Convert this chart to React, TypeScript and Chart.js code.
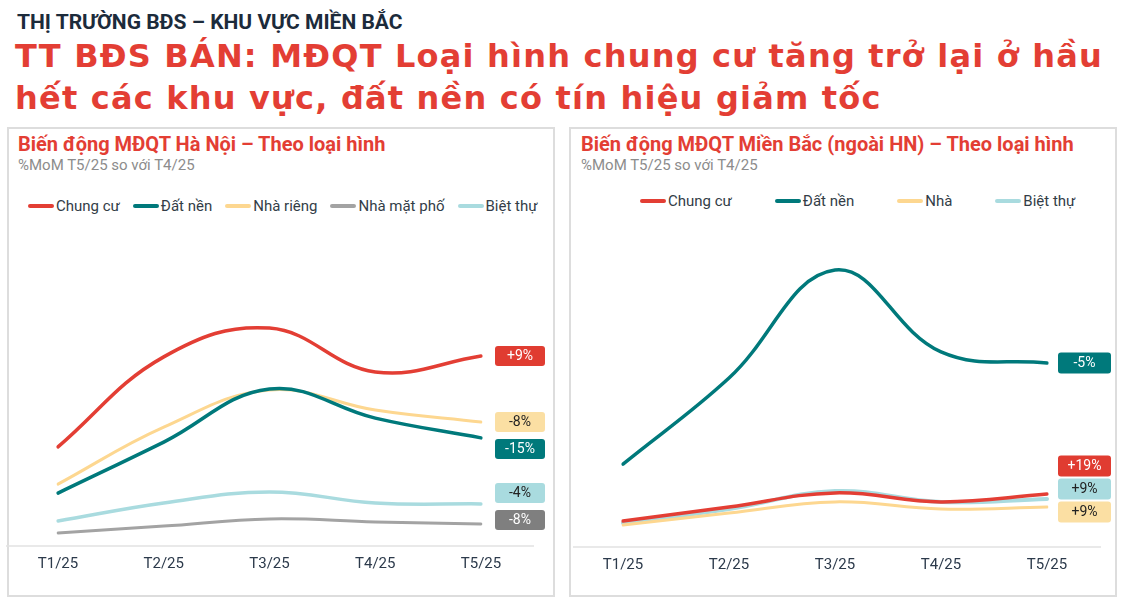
import React, { useEffect, useRef } from "react";
import { Chart, registerables } from "chart.js";

Chart.register(...registerables);

// ---------- data ----------
const categories = ["T1/25", "T2/25", "T3/25", "T4/25", "T5/25"];

const hnSeries = ["Chung cư", "Đất nền", "Nhà riêng", "Nhà mặt phố", "Biệt thự"];
const hnChungCu = [32.7, 62.7, 72.3, 57.7, 63.0];
const hnDatNen = [17.3, 34.3, 52.0, 42.3, 35.7];
const hnNhaRieng = [20.3, 39.3, 51.7, 45.0, 41.0];
const hnNhaMatPho = [4.0, 6.3, 8.7, 7.7, 7.0];
const hnBietThu = [8.0, 14.0, 17.7, 14.0, 13.7];
const hnBadges = ["+9%", "-15%", "-8%", "-8%", "-4%"];

const mbSeries = ["Chung cư", "Đất nền", "Nhà", "Biệt thự"];
const mbChungCu = [8.3, 13.0, 17.7, 14.7, 17.3];
const mbDatNen = [27.3, 56.0, 92.0, 64.7, 61.0];
const mbNha = [7.0, 11.0, 14.7, 12.3, 13.0];
const mbBietThu = [7.7, 12.3, 18.3, 14.7, 15.7];
const mbBadges = ["+19%", "-5%", "+9%", "+9%"];

// ---------- styles ----------
const RED = "#E33E34";
const TEAL = "#00797B";
const YELLOW = "#FDD790";
const LIGHTBLUE = "#A9DBDF";
const GRAY = "#A3A3A3";

const hnColors = [RED, TEAL, YELLOW, GRAY, LIGHTBLUE];
const hnWidths = [3.5, 3.5, 3, 3, 3.5];
const hnBadgeBg = ["#E03C31", "#00797B", "#FBDFA3", "#7F7F7F", "#A9DBDF"];
const hnBadgeFg = ["#FFFFFF", "#FFFFFF", "#222222", "#FFFFFF", "#222222"];

const mbColors = [RED, TEAL, YELLOW, LIGHTBLUE];
const mbWidths = [3.5, 3.5, 3, 4];
const mbBadgeBg = ["#E03C31", "#00797B", "#FBDFA3", "#A9DBDF"];
const mbBadgeFg = ["#FFFFFF", "#FFFFFF", "#222222", "#222222"];

const FONT = "Roboto, 'Noto Sans', sans-serif";

// ---------- plugins ----------
const baselinePlugin = {
  id: "baseline",
  beforeDatasetsDraw(chart: any, _a: any, opts: any) {
    const { ctx, chartArea } = chart;
    ctx.save();
    ctx.strokeStyle = "#E2E2E2";
    ctx.lineWidth = 1.5;
    ctx.beginPath();
    const y = chartArea.bottom + 1;
    ctx.moveTo(chartArea.left - opts.left, y);
    ctx.lineTo(chartArea.right + opts.right, y);
    ctx.stroke();
    ctx.restore();
  },
};

const badgePlugin = {
  id: "endBadges",
  afterDatasetsDraw(chart: any, _a: any, opts: any) {
    const { ctx, chartArea } = chart;
    const items = chart.data.datasets.map((_ds: any, i: number) => {
      const meta = chart.getDatasetMeta(i);
      const pt = meta.data[meta.data.length - 1];
      return { i, x: pt.x, y: pt.y };
    });
    const sorted = [...items].sort((a: any, b: any) => a.y - b.y);
    const pos = sorted.map((s: any) => s.y);
    for (let k = 1; k < pos.length; k++) pos[k] = Math.max(pos[k], pos[k - 1] + opts.minGap);
    const limit = chartArea.bottom - opts.bottomOffset;
    for (let k = pos.length - 1; k >= 0; k--) {
      pos[k] = Math.min(pos[k], k === pos.length - 1 ? limit : pos[k + 1] - opts.minGap);
    }
    ctx.save();
    sorted.forEach((s: any, k: number) => {
      const x = s.x + opts.gap;
      const y = pos[k] - opts.height / 2;
      ctx.fillStyle = opts.bg[s.i];
      ctx.beginPath();
      ctx.roundRect(x, y, opts.width, opts.height, 3);
      ctx.fill();
      ctx.fillStyle = opts.fg[s.i];
      ctx.font = `14px ${FONT}`;
      ctx.textAlign = "center";
      ctx.textBaseline = "middle";
      ctx.fillText(opts.labels[s.i], x + opts.width / 2, pos[k] + 0.5);
    });
    ctx.restore();
  },
};

function makeConfig(
  series: string[],
  values: number[][],
  colors: string[],
  widths: number[],
  padding: any,
  baseline: any,
  badges: any
): any {
  return {
    type: "line",
    data: {
      labels: categories,
      datasets: series.map((name, i) => ({
        label: name,
        data: values[i],
        borderColor: colors[i],
        backgroundColor: colors[i],
        borderWidth: widths[i],
        borderCapStyle: "round",
        tension: 0.4,
        pointRadius: 0,
        pointHoverRadius: 0,
        fill: false,
      })),
    },
    options: {
      responsive: false,
      animation: false,
      layout: { padding },
      plugins: {
        legend: { display: false },
        tooltip: { enabled: false },
        baseline,
        endBadges: badges,
      },
      scales: {
        x: {
          type: "category",
          offset: false,
          grid: { display: false, drawTicks: false },
          border: { display: false },
          ticks: {
            color: "#2C3A4B",
            font: { family: FONT, size: 15 },
            padding: 10,
            maxRotation: 0,
            autoSkip: false,
          },
        },
        y: { display: false, min: 0, max: 100 },
      },
    },
    plugins: [baselinePlugin, badgePlugin],
  };
}

function LineChart(props: { config: any; width: number; height: number; style: any }) {
  const ref = useRef<HTMLCanvasElement>(null);
  useEffect(() => {
    if (!ref.current) return;
    const chart = new Chart(ref.current, props.config);
    return () => chart.destroy();
  }, []);
  return (
    <canvas
      ref={ref}
      width={props.width}
      height={props.height}
      style={{ position: "absolute", width: props.width, height: props.height, ...props.style }}
    />
  );
}

function Legend(props: { names: string[]; colors: string[]; left: number; top: number; gap: number }) {
  return (
    <div
      style={{
        position: "absolute",
        left: props.left,
        top: props.top,
        display: "flex",
        alignItems: "center",
        gap: props.gap,
        fontFamily: FONT,
        fontSize: 15,
        lineHeight: "18px",
        color: "#333D47",
        whiteSpace: "nowrap",
      }}
    >
      {props.names.map((n, i) => (
        <div key={n} style={{ display: "flex", alignItems: "center" }}>
          <div
            style={{
              width: 26,
              height: 4,
              borderRadius: 2,
              background: props.colors[i],
              marginRight: 2,
            }}
          />
          <span>{n}</span>
        </div>
      ))}
    </div>
  );
}

export default function App() {
  const hnConfig = makeConfig(
    hnSeries,
    [hnChungCu, hnDatNen, hnNhaRieng, hnNhaMatPho, hnBietThu],
    hnColors,
    hnWidths,
    { left: 52, right: 71, top: 20, bottom: 12 },
    { left: 52, right: 53 },
    { labels: hnBadges, bg: hnBadgeBg, fg: hnBadgeFg, gap: 14, width: 50, height: 20, minGap: 27, bottomOffset: 25 }
  );
  const mbConfig = makeConfig(
    mbSeries,
    [mbChungCu, mbDatNen, mbNha, mbBietThu],
    mbColors,
    mbWidths,
    { left: 50, right: 66, top: 21, bottom: 11 },
    { left: 50, right: 54 },
    { labels: mbBadges, bg: mbBadgeBg, fg: mbBadgeFg, gap: 11, width: 53, height: 21, minGap: 23, bottomOffset: 34 }
  );

  const panel = (left: number, width: number): any => ({
    position: "absolute",
    left,
    top: 127,
    width,
    height: 470,
    border: "2px solid #DDDDDD",
    boxSizing: "border-box",
  });

  return (
    <div
      style={{
        position: "absolute",
        left: 0,
        top: 0,
        width: 1123,
        height: 600,
        background: "#FFFFFF",
        overflow: "hidden",
        fontFamily: FONT,
      }}
    >
      <div
        style={{
          position: "absolute",
          left: 17,
          top: 12,
          fontSize: 21,
          lineHeight: "21px",
          fontWeight: 700,
          color: "#1C2B3B",
          whiteSpace: "nowrap",
        }}
      >
        THỊ TRƯỜNG BĐS – KHU VỰC MIỀN BẮC
      </div>
      <div
        style={{
          position: "absolute",
          left: 15,
          top: 35,
          fontFamily: "'DejaVu Sans', sans-serif",
          fontSize: 32,
          letterSpacing: 1.2,
          lineHeight: "42px",
          fontWeight: 700,
          color: RED,
          whiteSpace: "nowrap",
        }}
      >
        <div>TT BĐS BÁN: MĐQT Loại hình chung cư tăng trở lại ở hầu</div>
        <div>hết các khu vực, đất nền có tín hiệu giảm tốc</div>
      </div>

      <div style={panel(7, 548)} />
      <div style={panel(569, 548)} />

      <div style={{ position: "absolute", left: 18, top: 134, fontSize: 20, lineHeight: "20px", fontWeight: 700, color: RED, whiteSpace: "nowrap" }}>
        Biến động MĐQT Hà Nội – Theo loại hình
      </div>
      <div style={{ position: "absolute", left: 18, top: 158, fontSize: 15, lineHeight: "15px", color: "#8C8C8C", whiteSpace: "nowrap" }}>
        %MoM T5/25 so với T4/25
      </div>
      <div style={{ position: "absolute", left: 581, top: 134, fontSize: 20, lineHeight: "20px", fontWeight: 700, color: RED, whiteSpace: "nowrap" }}>
        Biến động MĐQT Miền Bắc (ngoài HN) – Theo loại hình
      </div>
      <div style={{ position: "absolute", left: 581, top: 158, fontSize: 15, lineHeight: "15px", color: "#8C8C8C", whiteSpace: "nowrap" }}>
        %MoM T5/25 so với T4/25
      </div>

      <Legend names={hnSeries} colors={hnColors} left={28} top={197} gap={13} />
      <Legend names={mbSeries} colors={mbColors} left={640} top={192} gap={43} />

      <LineChart config={hnConfig} width={546} height={370} style={{ left: 6, top: 225 }} />
      <LineChart config={mbConfig} width={540} height={370} style={{ left: 573, top: 225 }} />
    </div>
  );
}
